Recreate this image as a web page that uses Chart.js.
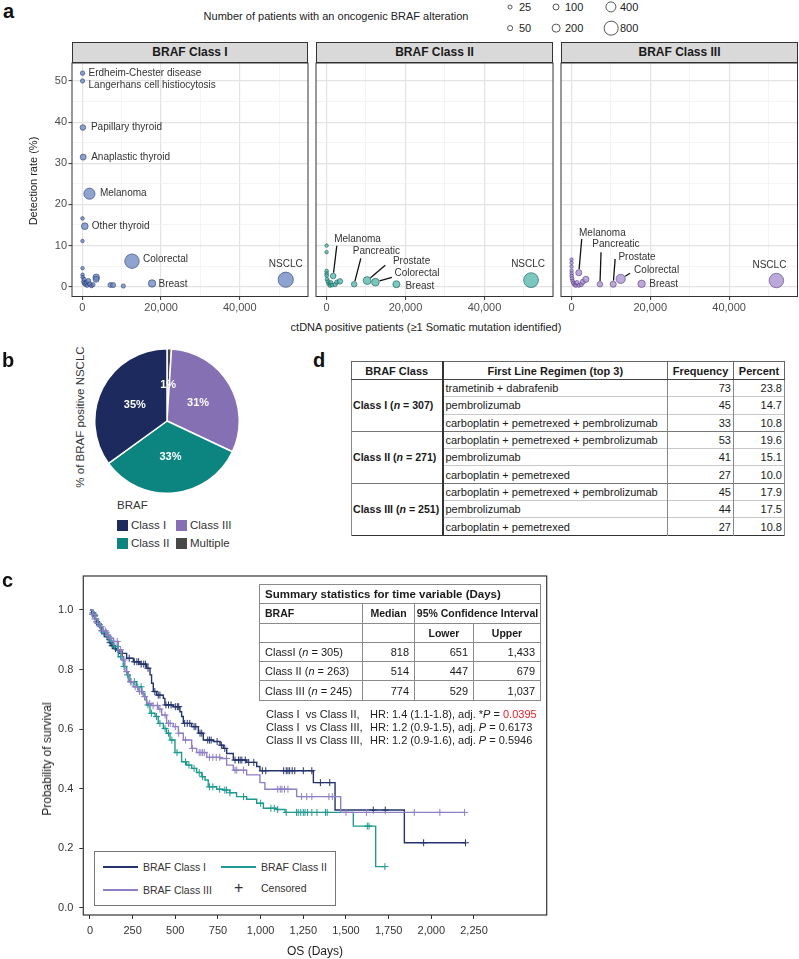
<!DOCTYPE html>
<html>
<head>
<meta charset="utf-8">
<title>BRAF figure</title>
<script src="https://cdn.jsdelivr.net/npm/chart.js@4.4.1/dist/chart.umd.min.js"></script>
<style>
html,body{margin:0;padding:0;background:#fff;}
body{width:799px;height:959px;position:relative;overflow:hidden;font-family:'Liberation Sans',Arial,Helvetica,sans-serif;color:#222;}
.abs{position:absolute;white-space:nowrap;}
canvas{position:absolute;}
.letter{position:absolute;font-weight:bold;font-size:20px;line-height:20px;color:#111;}
.strip{position:absolute;top:42px;height:19px;background:#d9d9d9;border:1px solid #333;font-weight:bold;font-size:12px;line-height:19px;text-align:center;color:#1a1a1a;}
.vtext{position:absolute;transform:translate(-50%,-50%) rotate(-90deg);white-space:nowrap;}
.ctext{position:absolute;transform:translate(-50%,-50%);white-space:nowrap;}
.szc{position:absolute;border:1px solid #555;border-radius:50%;background:#fff;transform:translate(-50%,-50%);box-sizing:border-box;}
.sq{position:absolute;width:11px;height:11px;}
#tblD{position:absolute;left:351px;top:361px;width:433px;border-collapse:collapse;table-layout:fixed;font-size:11px;color:#1a1a1a;border:1.5px solid #333;}
#tblD th{height:17px;padding:0;border:1px solid #666;border-bottom:1.5px solid #444;font-weight:bold;text-align:center;}
#tblD td{height:16.3px;padding:0 2px;border-left:1px solid #888;border-right:1px solid #888;border-top:1px solid #c8c8c8;white-space:nowrap;overflow:hidden;}
#tblD td.cls{font-weight:bold;font-size:10.6px;text-align:left;border-right:2px solid #333;border-top:1.5px solid #777;padding:0 0 0 1px;}
#tblD th.c0{border-right:2px solid #333;}
#tblD td.num{text-align:right;}
#tblD tr.first td{border-top:1.5px solid #777;}
#tblKM{position:absolute;left:259px;top:584px;width:281px;border-collapse:collapse;table-layout:fixed;font-size:11px;color:#1a1a1a;border:1.5px solid #777;}
#tblKM td{border:1px solid #8a8a8a;padding:0 5px;white-space:nowrap;overflow:hidden;}
#tblKM tr{height:19.3px;}
#tblKM .b{font-weight:bold;font-size:10.5px;}
#tblKM .c{text-align:center;padding:0 1px;}
#tblKM .r{text-align:right;}
.hr{position:absolute;left:266px;font-size:11px;line-height:13.3px;color:#222;white-space:nowrap;}
.hr .pair{display:inline-block;width:104px;}
.kmleg{position:absolute;left:94px;top:851px;width:240px;height:53px;border:1px solid #777;background:#fff;}
.kline{position:absolute;height:2px;width:35px;}
.ktxt{position:absolute;font-size:10.5px;line-height:12px;color:#333;white-space:nowrap;}
</style>
</head>
<body>

<div class="letter" style="left:3px;top:1px;">a</div>
<div class="abs" id="szTitle" style="left:190px;width:292px;top:10px;font-size:11px;line-height:13px;text-align:center;color:#222;">Number of patients with an oncogenic BRAF alteration</div>
<div id="szLegend"></div>

<div class="strip" style="left:72px;width:234px;">BRAF Class I</div>
<div class="strip" style="left:316px;width:235px;">BRAF Class II</div>
<div class="strip" style="left:561px;width:235px;">BRAF Class III</div>

<canvas id="a1" width="279" height="258" style="left:30px;top:62px;"></canvas>
<canvas id="a2" width="239" height="258" style="left:315px;top:62px;"></canvas>
<canvas id="a3" width="239" height="258" style="left:560px;top:62px;"></canvas>

<div class="vtext" style="left:33px;top:181px;font-size:11px;color:#222;">Detection rate (%)</div>
<div class="ctext" style="left:426px;top:327px;font-size:11px;color:#222;">ctDNA positive patients (≥1 Somatic mutation identified)</div>

<div class="letter" style="left:2px;top:350px;">b</div>
<canvas id="pie" width="146" height="146" style="left:94px;top:348px;"></canvas>
<div class="vtext" style="left:80px;top:417px;font-size:11.5px;color:#333;">% of BRAF positive NSCLC</div>
<div id="pieLegend"></div>

<div class="letter" style="left:313px;top:350px;">d</div>
<table id="tblD">
<colgroup><col style="width:91px"><col style="width:225px"><col style="width:66px"><col style="width:51px"></colgroup>
<thead><tr><th class="c0">BRAF Class</th><th>First Line Regimen (top 3)</th><th>Frequency</th><th>Percent</th></tr></thead>
<tbody id="tblDBody"></tbody>
</table>

<div class="letter" style="left:2px;top:570px;">c</div>
<canvas id="km" width="524" height="399" style="left:36px;top:560px;"></canvas>
<div class="vtext" style="left:47px;top:759px;font-size:12px;color:#222;">Probability of survival</div>

<table id="tblKM">
<colgroup><col style="width:103px"><col style="width:52px"><col style="width:59px"><col style="width:67px"></colgroup>
<tbody id="tblKMBody"></tbody>
</table>
<div id="hrText"></div>

<div class="kmleg" id="kmLegend"></div>

<script>
// ================= DATA =================
// ---- Panel a : size legend values (patients) ----
const sizeLegendValues = [25, 100, 400, 50, 200, 800];

// ---- Panel a : BRAF Class I ----
const c1Names = ['Erdheim-Chester disease','Langerhans cell histiocytosis','Papillary thyroid','Anaplastic thyroid','Melanoma','','Other thyroid','','Colorectal','','','','','','','','','','','','','','','','','','','Breast','NSCLC'];
const c1Ctdna = [30, 30, 120, 190, 1780, 20, 600, 20, 12600, 30, 40, 60, 300, 500, 800, 1000, 1200, 1500, 1900, 2300, 2700, 400, 3500, 3500, 7100, 7800, 10400, 17700, 51700];
const c1Rate  = [51.9, 50.0, 38.7, 31.5, 22.6, 16.6, 14.7, 11.1, 6.2, 4.5, 2.9, 2.3, 1.2, 0.8, 0.5, 1.0, 0.3, 1.4, 0.6, 0.2, 0.5, 1.8, 2.3, 1.8, 0.4, 0.4, 0.17, 0.8, 1.7];
const c1Count = [16, 12, 45, 60, 400, 4, 88, 3, 780, 3, 4, 4, 10, 12, 10, 15, 8, 25, 20, 8, 10, 8, 80, 60, 25, 30, 12, 124, 880];

// ---- Panel a : BRAF Class II ----
const c2Names = ['','','','','','','','','','','','','','Melanoma','','Pancreatic','Prostate','Colorectal','Breast','NSCLC'];
const c2Ctdna = [30, 30, 40, 40, 50, 150, 400, 600, 900, 1100, 1400, 2200, 2600, 1700, 3400, 7000, 10300, 12400, 17700, 51800];
const c2Rate  = [10.0, 8.4, 3.8, 3.2, 2.7, 1.8, 1.2, 0.7, 0.3, 1.0, 0.4, 0.5, 1.1, 2.6, 1.3, 0.6, 1.5, 1.1, 0.6, 1.6];
const c2Count = [3, 3, 6, 5, 5, 6, 10, 8, 6, 10, 6, 10, 12, 45, 45, 42, 150, 135, 106, 830];

// ---- Panel a : BRAF Class III ----
const c3Names = ['','','','','','','','','','','','','','','','Melanoma','','Pancreatic','Prostate','Colorectal','Breast','NSCLC'];
const c3Ctdna = [30, 30, 30, 30, 40, 60, 150, 300, 500, 800, 1100, 1400, 1900, 2500, 2900, 1870, 3660, 7230, 10600, 12500, 17800, 52000];
const c3Rate  = [6.6, 5.8, 4.9, 3.9, 3.2, 2.6, 2.0, 1.4, 0.9, 0.5, 0.3, 1.0, 0.3, 0.5, 1.2, 3.4, 1.8, 0.6, 0.6, 1.9, 0.7, 1.5];
const c3Count = [2, 2, 3, 3, 3, 4, 5, 6, 8, 8, 6, 12, 6, 10, 30, 64, 66, 43, 64, 240, 125, 780];

// ---- Panel a : axis ticks ----
const aXTicks = [0, 10000, 20000, 30000, 40000, 50000];
const aXLabelled = [0, 20000, 40000];
const aYTicks = [0, 5, 10, 15, 20, 25, 30, 35, 40, 45, 50];
const aYLabelled = [0, 10, 20, 30, 40, 50];

// ---- Panel b : pie (% of BRAF positive NSCLC) ----
const pieLabels  = ['Multiple', 'Class III', 'Class II', 'Class I'];
const piePercent = [1, 31, 33, 35];
const pieLegendOrder = ['Class I', 'Class III', 'Class II', 'Multiple'];

// ---- Panel d : first-line regimen table ----
const dClassNames = ['Class I', 'Class II', 'Class III'];
const dClassN = [307, 271, 251];
const dRegimens = [
  ['trametinib + dabrafenib', 'pembrolizumab', 'carboplatin + pemetrexed + pembrolizumab'],
  ['carboplatin + pemetrexed + pembrolizumab', 'pembrolizumab', 'carboplatin + pemetrexed'],
  ['carboplatin + pemetrexed + pembrolizumab', 'pembrolizumab', 'carboplatin + pemetrexed']
];
const dFrequency = [[73, 45, 33], [53, 41, 27], [45, 44, 27]];
const dPercent = [[23.8, 14.7, 10.8], [19.6, 15.1, 10.0], [17.9, 17.5, 10.8]];

// ---- Panel c : Kaplan-Meier steps (days, survival) ----
const kmNames = ['BRAF Class I', 'BRAF Class II', 'BRAF Class III'];
const km1Days = [0,10,20,30,40,50,60,70,80,95,105,115,125,137,156,176,215,254,293,332,352,361,371,391,430,439,488,527,537,547,596,635,664,723,762,781,801,840,918,977,996,1309,1436,1842,2200];
const km1Surv = [1,0.99,0.98,0.97,0.96,0.95,0.94,0.93,0.92,0.91,0.90,0.89,0.88,0.87,0.866,0.854,0.838,0.826,0.818,0.804,0.782,0.754,0.726,0.714,0.703,0.681,0.675,0.658,0.642,0.619,0.608,0.586,0.563,0.558,0.546,0.535,0.518,0.496,0.488,0.474,0.460,0.420,0.328,0.218,0.218];
const km2Days = [0,15,30,45,59,75,98,115,137,166,195,215,234,273,303,322,332,352,381,400,430,449,469,498,537,566,596,625,654,674,693,742,781,820,859,918,977,1016,1094,1143,1543,1674,1728];
const km2Surv = [1,0.985,0.97,0.955,0.944,0.925,0.91,0.895,0.877,0.843,0.81,0.782,0.759,0.742,0.72,0.698,0.681,0.653,0.642,0.619,0.602,0.586,0.563,0.521,0.49,0.479,0.468,0.454,0.44,0.429,0.406,0.398,0.395,0.386,0.373,0.364,0.351,0.334,0.33,0.32,0.274,0.138,0.138];
const km3Days = [0,15,30,45,59,75,98,115,137,166,186,205,225,254,283,312,332,361,400,420,449,488,518,547,596,625,684,762,801,840,918,996,1025,1211,1469,2195];
const km3Surv = [1,0.985,0.97,0.955,0.944,0.93,0.916,0.905,0.894,0.866,0.832,0.793,0.759,0.742,0.726,0.709,0.686,0.679,0.667,0.647,0.619,0.608,0.586,0.563,0.535,0.521,0.505,0.501,0.479,0.462,0.446,0.42,0.398,0.373,0.32,0.32];
// censored observation times (days)
const km1Censor = [18,28,40,55,70,85,100,118,130,150,165,190,230,260,275,285,300,315,325,340,380,400,410,445,460,475,500,512,520,555,570,585,610,620,645,655,690,700,710,745,770,790,850,870,880,890,910,930,960,1010,1030,1135,1150,1160,1170,1185,1200,1250,1300,1350,1405,1660,1730,1955,2200];
const km2Censor = [15,25,35,50,65,80,95,110,125,145,160,180,200,220,240,260,280,300,340,360,390,410,440,460,480,510,560,580,610,640,660,700,720,760,790,800,820,900,1000,1060,1080,1100,1150,1210,1220,1235,1250,1260,1275,1300,1330,1380,1390,1625,1635,1728];
const km3Censor = [18,30,45,60,75,90,105,120,140,160,180,200,215,240,265,290,305,320,350,370,395,410,440,460,470,500,520,560,600,640,650,660,670,700,720,740,760,800,850,860,900,1100,1115,1125,1140,1160,1240,1270,1300,1400,1420,1500,1620,1900,2050,2195];
const kmXTicks = [0, 250, 500, 750, 1000, 1250, 1500, 1750, 2000, 2250];
const kmYTicks = [0, 0.2, 0.4, 0.6, 0.8, 1.0];

// ---- Panel c : summary statistics table ----
const kmGroupLabel = ['ClassI', 'Class II', 'Class III'];
const kmGroupN = [305, 263, 245];
const kmMedian = [818, 514, 774];
const kmLower = [651, 447, 529];
const kmUpper = [1433, 679, 1037];
// ---- Panel c : hazard ratio comparisons ----
const hrPairs = ['Class I  vs Class II,', 'Class I  vs Class III,', 'Class II vs Class III,'];
const hrValue = [1.4, 1.2, 1.2];
const hrLow = [1.1, 0.9, 0.9];
const hrHigh = [1.8, 1.5, 1.6];
const hrP = ['0.0395', '0.6173', '0.5946'];
const hrSignificant = [true, false, false];

// ================= STYLE / LAYOUT (not data) =================
const FONT = "'Liberation Sans', Arial, Helvetica, sans-serif";
Chart.defaults.font.family = FONT;
Chart.defaults.color = '#333';

const classStyle = {
  a1: {fill: 'rgba(98,128,190,0.72)', stroke: 'rgba(30,48,100,0.9)'},
  a2: {fill: 'rgba(72,178,168,0.72)', stroke: 'rgba(8,80,75,0.9)'},
  a3: {fill: 'rgba(165,140,205,0.75)', stroke: 'rgba(70,45,115,0.9)'}
};
const kmColors = ['#24336b', '#1f9a90', '#8f7fc4'];
const pieColors = {'Class I': '#1c2a5e', 'Class II': '#0c8580', 'Class III': '#8570b4', 'Multiple': '#484848'};

// label placement (pixel offsets from point; lead = leader start offset)
const placeA1 = {
  'Erdheim-Chester disease': {dx: 6, dy: 0},
  'Langerhans cell histiocytosis': {dx: 6, dy: 4.5},
  'Papillary thyroid': {dx: 8, dy: 0},
  'Anaplastic thyroid': {dx: 8, dy: 0},
  'Melanoma': {dx: 10.5, dy: 0},
  'Other thyroid': {dx: 7, dy: 0},
  'Colorectal': {dx: 11, dy: -2},
  'Breast': {dx: 6.5, dy: 1},
  'NSCLC': {dx: 0, dy: -15, align: 'center'}
};
const placeA2 = {
  'Melanoma': {dx: 1, dy: -36.7, lead: [3.6, -30.3]},
  'Pancreatic': {dx: -1.3, dy: -32.9, lead: [6.7, -25.9]},
  'Prostate': {dx: 25.8, dy: -18.8, lead: [18.1, -15.2]},
  'Colorectal': {dx: 19.1, dy: -8.9, lead: [16.5, -4.9]},
  'Breast': {dx: 9, dy: 1.8},
  'NSCLC': {dx: -3, dy: -16, align: 'center'}
};
const placeA3 = {
  'Melanoma': {dx: 0.2, dy: -39.4, lead: [2.9, -33.7]},
  'Pancreatic': {dx: -7.6, dy: -39.5, lead: [1.1, -31.9]},
  'Prostate': {dx: 5.2, dy: -27.2, lead: [1.9, -25.2]},
  'Colorectal': {dx: 13.4, dy: -8.9, lead: [9.4, -5.6]},
  'Breast': {dx: 7.6, dy: 0.5},
  'NSCLC': {dx: -7, dy: -15, align: 'center'}
};

// size mapping (patients -> radius px)
const sizeScale = n => 1.4 + 0.21 * Math.sqrt(n);

// ================= PLUGINS =================
function framePlugin(color, width) {
  return {
    id: 'frame',
    afterDraw(chart) {
      const {ctx, chartArea: a} = chart;
      ctx.save();
      ctx.strokeStyle = color; ctx.lineWidth = width;
      ctx.strokeRect(a.left, a.top, a.right - a.left, a.bottom - a.top);
      ctx.restore();
    }
  };
}
function pointLabelPlugin(names, place) {
  return {
    id: 'pointLabels',
    afterDatasetsDraw(chart) {
      const ctx = chart.ctx;
      const meta = chart.getDatasetMeta(0);
      ctx.save();
      ctx.font = '10px ' + FONT;
      ctx.fillStyle = '#333';
      ctx.textBaseline = 'middle';
      names.forEach((name, i) => {
        if (!name || !place[name]) return;
        const p = place[name];
        const el = meta.data[i];
        const px = el.x, py = el.y;
        if (p.lead) {
          const sx = px + p.lead[0], sy = py + p.lead[1];
          const r = el.options.radius + 0.5;
          const ang = Math.atan2(sy - py, sx - px);
          ctx.beginPath();
          ctx.moveTo(sx, sy);
          ctx.lineTo(px + Math.cos(ang) * r, py + Math.sin(ang) * r);
          ctx.strokeStyle = '#111'; ctx.lineWidth = 1.3;
          ctx.stroke();
        }
        ctx.textAlign = p.align || 'left';
        ctx.fillText(name, px + p.dx, py + p.dy);
      });
      ctx.restore();
    }
  };
}
// remove Chart.js label overflow padding so chart areas line up exactly
function noPad(s) { s.paddingTop = 0; s.paddingBottom = 0; s.paddingLeft = 0; s.paddingRight = 0; }

// ================= PANEL a =================
const A_XMIN = -2650, A_XMAX = 57350, A_YMIN = -2.38, A_YMAX = 54.37;
function bubbleChart(id, names, xs, ys, ns, place, yAxisW, padL, padR) {
  const st = classStyle[id];
  const data = xs.map((x, i) => ({x: x, y: ys[i], r: sizeScale(ns[i])}));
  const showY = yAxisW > 0;
  return new Chart(document.getElementById(id), {
    type: 'bubble',
    data: {datasets: [{data: data, backgroundColor: st.fill, borderColor: st.stroke, borderWidth: 0.6}]},
    options: {
      responsive: false, animation: false, devicePixelRatio: 1,
      layout: {autoPadding: false, padding: {top: 1, right: padR, left: padL, bottom: 0}},
      plugins: {legend: {display: false}, tooltip: {enabled: false}},
      scales: {
        x: {
          type: 'linear', min: A_XMIN, max: A_XMAX,
          afterBuildTicks: s => { s.ticks = aXTicks.map(v => ({value: v})); },
          afterFit: s => { s.height = 23.5; noPad(s); },
          border: {display: false},
          grid: {
            color: c => aXLabelled.includes(c.tick && c.tick.value) ? '#e3e3e3' : '#ededed',
            lineWidth: c => aXLabelled.includes(c.tick && c.tick.value) ? 1.2 : 0.6,
            tickColor: c => aXLabelled.includes(c.tick && c.tick.value) ? '#333' : 'rgba(0,0,0,0)',
            tickLength: 3.5, tickWidth: 1
          },
          ticks: {autoSkip: false, maxRotation: 0, padding: 1.5, font: {size: 11}, color: '#4d4d4d',
                  callback: v => aXLabelled.includes(v) ? v.toLocaleString('en-US') : ''}
        },
        y: {
          type: 'linear', min: A_YMIN, max: A_YMAX,
          afterBuildTicks: s => { s.ticks = aYTicks.map(v => ({value: v})); },
          afterFit: s => { s.width = yAxisW; noPad(s); },
          border: {display: false},
          grid: {
            color: c => aYLabelled.includes(c.tick && c.tick.value) ? '#e3e3e3' : '#ededed',
            lineWidth: c => aYLabelled.includes(c.tick && c.tick.value) ? 1.2 : 0.6,
            tickColor: c => (showY && aYLabelled.includes(c.tick && c.tick.value)) ? '#333' : 'rgba(0,0,0,0)',
            tickLength: showY ? 3.5 : 0, drawTicks: showY, tickWidth: 1
          },
          ticks: {display: showY, autoSkip: false, padding: 1.5, font: {size: 11}, color: '#4d4d4d',
                  callback: v => aYLabelled.includes(v) ? String(v) : ''}
        }
      }
    },
    plugins: [framePlugin('#333', 1), pointLabelPlugin(names, place)]
  });
}
bubbleChart('a1', c1Names, c1Ctdna, c1Rate, c1Count, placeA1, 42, 0, 1);
bubbleChart('a2', c2Names, c2Ctdna, c2Rate, c2Count, placeA2, 0, 1, 1);
bubbleChart('a3', c3Names, c3Ctdna, c3Rate, c3Count, placeA3, 0, 1, 1.5);

// size legend
(function () {
  const host = document.getElementById('szLegend');
  const colX = [510, 556, 611];
  const rowY = [7, 28];
  sizeLegendValues.forEach((v, i) => {
    const cx = colX[i % 3], cy = rowY[Math.floor(i / 3)];
    const r = sizeScale(v);
    const c = document.createElement('div');
    c.className = 'szc';
    c.style.left = cx + 'px'; c.style.top = cy + 'px';
    c.style.width = (2 * r) + 'px'; c.style.height = (2 * r) + 'px';
    host.appendChild(c);
    const t = document.createElement('div');
    t.className = 'abs';
    t.style.left = (cx + 9) + 'px'; t.style.top = (cy - 7) + 'px';
    t.style.fontSize = '11px'; t.style.lineHeight = '14px'; t.style.color = '#222';
    t.textContent = String(v);
    host.appendChild(t);
  });
})();

// ================= PANEL b =================
new Chart(document.getElementById('pie'), {
  type: 'pie',
  data: {labels: pieLabels, datasets: [{data: piePercent, backgroundColor: pieLabels.map(l => pieColors[l]), borderColor: '#fff', borderWidth: 1.5}]},
  options: {
    responsive: false, animation: false, devicePixelRatio: 1,
    layout: {autoPadding: false, padding: 0},
    plugins: {legend: {display: false}, tooltip: {enabled: false}}
  },
  plugins: [{
    id: 'pctLabels',
    afterDatasetsDraw(chart) {
      const ctx = chart.ctx;
      const meta = chart.getDatasetMeta(0);
      ctx.save();
      ctx.font = 'bold 11px ' + FONT;
      ctx.fillStyle = '#fff';
      ctx.textAlign = 'center'; ctx.textBaseline = 'middle';
      meta.data.forEach((arc, i) => {
        const p = arc.tooltipPosition();
        ctx.fillText(piePercent[i] + '%', p.x, p.y);
      });
      ctx.restore();
    }
  }]
});
(function () {
  const host = document.getElementById('pieLegend');
  const t = document.createElement('div');
  t.className = 'abs'; t.style.left = '117px'; t.style.top = '498px';
  t.style.fontSize = '11.5px'; t.style.lineHeight = '14px'; t.style.color = '#333';
  t.textContent = 'BRAF';
  host.appendChild(t);
  const colX = [117, 176], rowY = [520, 538];
  pieLegendOrder.forEach((lab, i) => {
    const x = colX[i % 2], y = rowY[Math.floor(i / 2)];
    const s = document.createElement('div');
    s.className = 'sq'; s.style.left = x + 'px'; s.style.top = y + 'px';
    s.style.background = pieColors[lab];
    host.appendChild(s);
    const tx = document.createElement('div');
    tx.className = 'abs'; tx.style.left = (x + 14) + 'px'; tx.style.top = (y - 1) + 'px';
    tx.style.fontSize = '11.5px'; tx.style.lineHeight = '13px'; tx.style.color = '#333';
    tx.textContent = lab;
    host.appendChild(tx);
  });
})();

// ================= PANEL d =================
(function () {
  const body = document.getElementById('tblDBody');
  let html = '';
  dClassNames.forEach((cn, g) => {
    dRegimens[g].forEach((reg, k) => {
      html += '<tr' + (k === 0 ? ' class="first"' : '') + '>';
      if (k === 0) html += '<td class="cls" rowspan="3">' + cn + ' (<i>n</i> = ' + dClassN[g] + ')</td>';
      html += '<td>' + reg + '</td><td class="num">' + dFrequency[g][k] + '</td><td class="num">' + dPercent[g][k].toFixed(1) + '</td></tr>';
    });
  });
  body.innerHTML = html;
})();

// ================= PANEL c =================
function survAt(days, surv, d) {
  let s = surv[0];
  for (let i = 0; i < days.length; i++) { if (days[i] <= d) s = surv[i]; else break; }
  return s;
}
const kmSets = [
  {days: km1Days, surv: km1Surv, cens: km1Censor},
  {days: km2Days, surv: km2Surv, cens: km2Censor},
  {days: km3Days, surv: km3Surv, cens: km3Censor}
];
const kmDatasets = [];
kmSets.forEach((k, i) => {
  kmDatasets.push({
    label: kmNames[i], data: k.days.map((d, j) => ({x: d, y: k.surv[j]})),
    borderColor: kmColors[i], borderWidth: 1.4, pointRadius: 0, stepped: true, fill: false, order: 3 - i
  });
});
kmSets.forEach((k, i) => {
  kmDatasets.push({
    label: kmNames[i] + ' censored', data: k.cens.map(d => ({x: d, y: survAt(k.days, k.surv, d)})),
    showLine: false, pointStyle: 'cross', pointRadius: 3.5, pointBorderWidth: 1,
    borderColor: kmColors[i], backgroundColor: kmColors[i], order: 3 - i
  });
});
new Chart(document.getElementById('km'), {
  type: 'line',
  data: {datasets: kmDatasets},
  options: {
    responsive: false, animation: false, devicePixelRatio: 1,
    layout: {autoPadding: false, padding: {top: 16, right: 13.3, left: 0, bottom: 0}},
    plugins: {legend: {display: false}, tooltip: {enabled: false}},
    scales: {
      x: {
        type: 'linear', min: -39, max: 2676,
        afterBuildTicks: s => { s.ticks = kmXTicks.map(v => ({value: v})); },
        afterFit: s => { s.height = 44; noPad(s); },
        border: {display: false},
        grid: {drawOnChartArea: false, drawTicks: true, tickLength: 4, tickColor: '#333', tickWidth: 1},
        ticks: {autoSkip: false, maxRotation: 0, padding: 5, font: {size: 11}, color: '#333',
                callback: v => v.toLocaleString('en-US')},
        title: {display: true, text: 'OS (Days)', font: {size: 12}, color: '#222', padding: {top: 0, bottom: 0}}
      },
      y: {
        type: 'linear', min: -0.0245, max: 1.114,
        afterBuildTicks: s => { s.ticks = kmYTicks.map(v => ({value: v})); },
        afterFit: s => { s.width = 47.3; noPad(s); },
        border: {display: false},
        grid: {drawOnChartArea: false, drawTicks: true, tickLength: 4, tickColor: '#333', tickWidth: 1},
        ticks: {autoSkip: false, padding: 6, font: {size: 11}, color: '#333', callback: v => v.toFixed(1)}
      }
    }
  },
  plugins: [framePlugin('#333', 1.2)]
});

// summary table
(function () {
  const body = document.getElementById('tblKMBody');
  let html = '';
  html += '<tr><td class="b" colspan="4" style="font-size:11.5px">Summary statistics for time variable (Days)</td></tr>';
  html += '<tr><td class="b">BRAF</td><td class="b c">Median</td><td class="b c" colspan="2">95% Confidence Interval</td></tr>';
  html += '<tr><td></td><td></td><td class="b c">Lower</td><td class="b c">Upper</td></tr>';
  kmGroupLabel.forEach((g, i) => {
    html += '<tr><td>' + g + ' (<i>n</i> = ' + kmGroupN[i] + ')</td><td class="r">' + kmMedian[i].toLocaleString('en-US') +
      '</td><td class="r">' + kmLower[i].toLocaleString('en-US') + '</td><td class="r">' + kmUpper[i].toLocaleString('en-US') + '</td></tr>';
  });
  body.innerHTML = html;
  const hr = document.getElementById('hrText');
  hrPairs.forEach((p, i) => {
    const d = document.createElement('div');
    d.className = 'hr';
    d.style.top = (707.5 + i * 13.3) + 'px';
    d.innerHTML = '<span class="pair" style="white-space:pre">' + p + '</span>HR: ' + hrValue[i].toFixed(1) + ' (' + hrLow[i].toFixed(1) + '-' + hrHigh[i].toFixed(1) + '), adj. ' +
      (hrSignificant[i] ? '*' : '') + '<i>P</i> = ' + (hrSignificant[i] ? '<span style="color:#e8202a">' + hrP[i] + '</span>' : hrP[i]);
    hr.appendChild(d);
  });
  // KM legend
  const lg = document.getElementById('kmLegend');
  const items = [
    {t: kmNames[0], c: kmColors[0], x: 8, y: 14},
    {t: kmNames[1], c: kmColors[1], x: 126, y: 14},
    {t: kmNames[2], c: kmColors[2], x: 8, y: 37}
  ];
  items.forEach(it => {
    const l = document.createElement('div');
    l.className = 'kline'; l.style.left = it.x + 'px'; l.style.top = it.y + 'px'; l.style.background = it.c;
    lg.appendChild(l);
    const t = document.createElement('div');
    t.className = 'ktxt'; t.style.left = (it.x + 40) + 'px'; t.style.top = (it.y - 5) + 'px';
    t.textContent = it.t;
    lg.appendChild(t);
  });
  const plus = document.createElement('div');
  plus.className = 'ktxt'; plus.style.left = '139px'; plus.style.top = '27px'; plus.style.fontSize = '16px'; plus.style.lineHeight = '18px';
  plus.textContent = '+';
  lg.appendChild(plus);
  const ct = document.createElement('div');
  ct.className = 'ktxt'; ct.style.left = '166px'; ct.style.top = '30px';
  ct.textContent = 'Censored';
  lg.appendChild(ct);
})();
</script>
</body>
</html>
